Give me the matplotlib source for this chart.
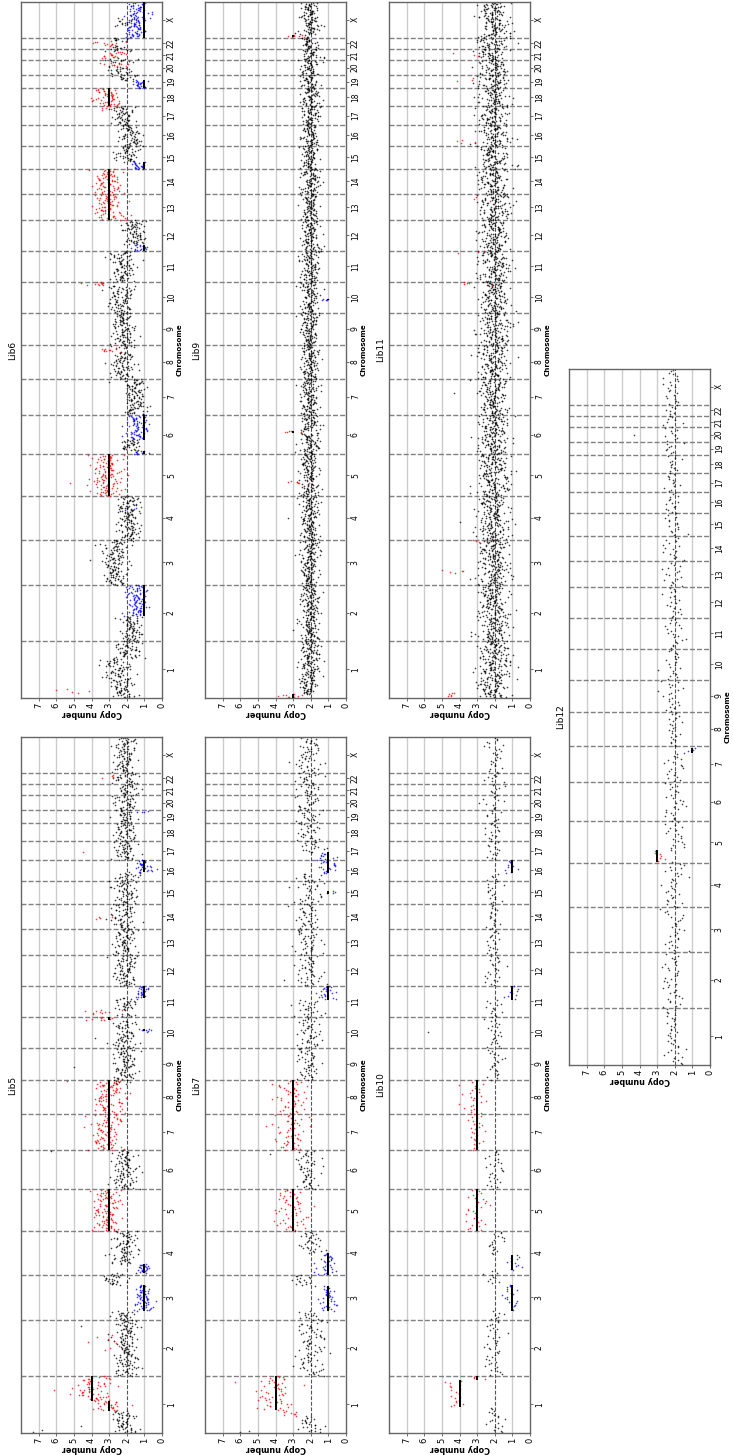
import numpy as np
import matplotlib
matplotlib.use("Agg")
import matplotlib.pyplot as plt

# chromosomes and their lengths (Mb, hg19)
chroms = [str(i) for i in range(1, 23)] + ["X"]
chrom_mb = [249.3, 243.2, 198.0, 191.2, 180.9, 171.1, 159.1, 146.4, 141.2, 135.5,
            135.0, 133.9, 115.2, 107.3, 102.5, 90.4, 81.2, 78.1, 59.1, 63.0,
            48.1, 51.3, 155.3]

# bins per Mb and scatter width for each library
bins_per_mb = {"Lib5": 0.6, "Lib6": 0.7, "Lib7": 0.35, "Lib9": 0.75,
               "Lib10": 0.17, "Lib11": 0.9, "Lib12": 0.15}
noise = {"Lib5": 0.25, "Lib6": 0.25, "Lib7": 0.27, "Lib9": 0.19,
         "Lib10": 0.19, "Lib11": 0.32, "Lib12": 0.21}

# baseline copy number per chromosome (black points)
lib5_base = [2.1, 2.05, 2.2, 2.15, 2.0, 2.1, 2.0, 2.5, 2.05, 2.1, 2.1, 2.05,
             2.1, 2.15, 2.1, 2.1, 2.15, 2.1, 2.1, 2.05, 2.1, 2.1, 2.1]
lib6_base = [2.2, 1.75, 2.6, 1.9, 2.1, 1.7, 1.5, 2.2, 2.2, 2.3, 2.2, 1.55,
             2.1, 2.1, 2.0, 1.8, 2.2, 2.1, 2.2, 2.4, 2.4, 2.5, 2.0]
lib7_base = [2.1, 2.05, 2.1, 2.1, 2.1, 2.1, 2.1, 2.1, 2.1, 2.1, 2.1, 2.1,
             2.1, 2.1, 2.1, 2.1, 2.1, 2.1, 2.1, 2.1, 2.1, 2.1, 2.1]
lib9_base = [2.1, 2.05, 2.05, 2.05, 2.05, 2.05, 2.05, 2.05, 2.05, 2.05, 2.05, 2.05,
             2.05, 2.05, 2.05, 2.05, 2.05, 2.05, 2.05, 2.05, 2.05, 2.05, 2.05]
lib10_base = [2.05] * 23
lib11_base = [2.1, 2.05, 2.05, 2.05, 2.05, 2.05, 2.05, 2.05, 2.05, 2.05, 2.05, 2.05,
              2.05, 2.05, 2.05, 2.05, 2.05, 2.05, 2.05, 2.05, 2.05, 2.05, 2.05]
lib12_base = [2.1] * 23

# called segments: (chrom, start frac, end frac, level, colour, segment CN)
lib5_events = [("1", 0.39, 0.56, 3.0, "r", 3), ("1", 0.56, 1.0, 4.0, "r", 4),
               ("3", 0.2, 0.77, 1.05, "b", 1), ("3", 0.77, 1.0, 2.7, "k", 0),
               ("4", 0.04, 0.24, 1.0, "b", 1), ("5", 0.0, 1.0, 3.1, "r", 3),
               ("7", 0.0, 1.0, 3.1, "r", 3), ("8", 0.0, 1.0, 3.0, "r", 3),
               ("10", 0.55, 0.62, 1.0, "b", 1), ("10", 0.88, 1.0, 3.4, "r", 3),
               ("11", 0.1, 0.22, 3.5, "r", 0), ("11", 0.62, 1.0, 1.05, "b", 1),
               ("16", 0.4, 1.0, 1.05, "b", 1)]
lib6_events = [("1", 0.35, 0.7, 2.6, "k", 0), ("1", 0.7, 1.0, 2.05, "k", 0),
               ("2", 0.45, 1.0, 1.45, "b", 1), ("5", 0.0, 1.0, 3.1, "r", 3),
               ("6", 0.0, 0.1, 1.25, "b", 1), ("6", 0.38, 1.0, 1.4, "b", 1),
               ("8", 0.8, 0.9, 2.8, "r", 0), ("10", 0.88, 1.0, 3.6, "r", 0),
               ("12", 0.0, 0.2, 1.2, "b", 1), ("13", 0.0, 1.0, 3.1, "r", 3),
               ("14", 0.0, 1.0, 3.1, "r", 3), ("15", 0.0, 0.3, 1.3, "b", 1),
               ("18", 0.0, 1.0, 3.1, "r", 3), ("19", 0.0, 0.6, 1.25, "b", 1),
               ("20", 0.6, 0.85, 2.9, "r", 0), ("21", 0.2, 0.8, 2.8, "r", 0),
               ("22", 0.3, 0.7, 3.1, "r", 0), ("X", 0.0, 1.0, 1.45, "b", 1)]
lib7_events = [("1", 0.3, 0.4, 3.0, "r", 0), ("1", 0.4, 1.0, 4.0, "r", 4),
               ("3", 0.2, 0.75, 1.05, "b", 1), ("3", 0.75, 1.0, 2.5, "k", 0),
               ("4", 0.0, 0.5, 1.05, "b", 1), ("5", 0.0, 1.0, 3.1, "r", 3),
               ("7", 0.0, 1.0, 3.1, "r", 3), ("8", 0.0, 1.0, 3.2, "r", 3),
               ("11", 0.55, 1.0, 1.05, "b", 1), ("15", 0.45, 0.55, 1.1, "b", 1),
               ("16", 0.35, 1.0, 1.05, "b", 1), ("17", 0.0, 0.4, 1.1, "b", 1)]
lib9_events = [("1", 0.0, 0.07, 3.3, "r", 3), ("5", 0.3, 0.35, 2.8, "r", 0),
               ("6", 0.55, 0.6, 3.0, "r", 3), ("10", 0.4, 0.45, 1.1, "b", 1),
               ("X", 0.02, 0.08, 2.8, "r", 3)]
lib10_events = [("1", 0.45, 0.93, 4.1, "r", 4), ("1", 0.93, 1.0, 3.0, "r", 3),
                ("3", 0.2, 0.78, 1.1, "b", 1), ("4", 0.1, 0.45, 1.0, "b", 1),
                ("5", 0.0, 1.0, 3.1, "r", 3), ("7", 0.0, 1.0, 3.1, "r", 3),
                ("8", 0.0, 1.0, 3.1, "r", 3), ("11", 0.55, 1.0, 1.05, "b", 1),
                ("16", 0.35, 1.0, 1.05, "b", 1)]
lib11_events = []
lib12_events = [("5", 0.02, 0.3, 2.8, "r", 3), ("7", 0.8, 0.95, 1.05, "b", 1)]

# extra bins on top of the baseline: (chrom, start frac, end frac, level, colour, count)
lib5_extra = [("2", 0.45, 0.75, 3.2, "r", 8), ("8", 0.85, 1.0, 2.4, "k", 8),
              ("10", 0.5, 0.6, 0.6, "b", 3), ("14", 0.4, 0.5, 3.2, "r", 4),
              ("19", 0.8, 0.9, 1.1, "b", 4), ("22", 0.55, 0.8, 3.1, "r", 4)]
lib6_extra = [("1", 0.08, 0.16, 5.0, "r", 5), ("4", 0.65, 0.75, 1.5, "b", 5),
              ("17", 0.8, 1.0, 2.8, "r", 6), ("X", 0.3, 0.55, 2.0, "k", 18)]
lib7_extra = []
lib9_extra = []
lib10_extra = []
lib11_extra = [("1", 0.02, 0.1, 4.3, "r", 6), ("3", 0.25, 0.35, 4.2, "r", 5),
               ("3", 0.95, 1.0, 3.0, "r", 4), ("10", 0.9, 1.0, 3.5, "r", 5),
               ("11", 0.9, 1.0, 3.2, "r", 3), ("13", 0.7, 0.9, 3.2, "r", 3),
               ("16", 0.1, 0.3, 3.5, "r", 4), ("19", 0.5, 0.8, 3.3, "r", 3),
               ("21", 0.3, 0.7, 3.3, "r", 3)]
lib12_extra = []

# single outlying bins: (chrom, frac, copy number, colour)
lib5_out = [("1", 0.02, 7.3, "k"), ("1", 0.05, 6.8, "k"), ("1", 0.12, 4.6, "k"),
            ("1", 0.75, 6.1, "r"), ("2", 0.9, 4.6, "k"), ("2", 0.6, 4.2, "r"),
            ("6", 0.98, 6.3, "k"), ("8", 0.99, 5.4, "r"), ("9", 0.4, 5.0, "k"),
            ("10", 0.3, 3.8, "k"), ("17", 0.4, 4.5, "r")]
lib6_out = [("3", 0.55, 4.1, "k"), ("5", 0.3, 5.2, "r"), ("7", 0.9, 3.0, "k"),
            ("10", 0.95, 4.6, "r")]
lib7_out = [("1", 0.01, 6.0, "k"), ("1", 0.03, 5.5, "k"), ("1", 0.9, 6.3, "r"),
            ("6", 0.9, 4.3, "k"), ("12", 0.2, 3.5, "k")]
lib9_out = [("2", 0.2, 3.0, "k"), ("4", 0.5, 3.3, "k")]
lib10_out = [("10", 0.5, 5.8, "k")]
lib11_out = [("4", 0.4, 4.0, "k"), ("7", 0.6, 4.3, "k")]
lib12_out = [("20", 0.5, 4.3, "k")]

libraries = {
    "Lib5": (lib5_base, lib5_events, lib5_extra, lib5_out),
    "Lib6": (lib6_base, lib6_events, lib6_extra, lib6_out),
    "Lib7": (lib7_base, lib7_events, lib7_extra, lib7_out),
    "Lib9": (lib9_base, lib9_events, lib9_extra, lib9_out),
    "Lib10": (lib10_base, lib10_events, lib10_extra, lib10_out),
    "Lib11": (lib11_base, lib11_events, lib11_extra, lib11_out),
    "Lib12": (lib12_base, lib12_events, lib12_extra, lib12_out),
}

# panel corners in the 733x1455 picture (left, top)
panel_px = {"Lib6": (21, 2), "Lib5": (21, 737), "Lib9": (205, 2), "Lib7": (205, 737),
            "Lib11": (389, 2), "Lib10": (389, 737), "Lib12": (569, 369)}
PW, PH = 141, 696
FW, FH = 733, 1455

colours = {"k": "black", "r": "red", "b": "blue"}
starts = np.concatenate([[0.0], np.cumsum(chrom_mb)[:-1]])
total = float(np.sum(chrom_mb))
mids = starts + np.array(chrom_mb) / 2


# bin-level scatter cannot be read point by point: spread it deterministically
def spread(k):
    h1 = np.modf(np.abs(np.sin(k * 12.9898 + 78.233) * 43758.5453))[0]
    h2 = np.modf(np.abs(np.sin(k * 39.3468 + 11.135) * 24634.6345))[0]
    z = np.sqrt(-2 * np.log(np.clip(h1, 1e-3, 1))) * np.cos(2 * np.pi * h2)
    return np.clip(z, -3, 3)


def build(name):
    base, events, extra, outl = libraries[name]
    dens, k = bins_per_mb[name], noise[name]
    pos, val, col = [], [], []
    cnt = 0
    for i, c in enumerate(chroms):
        n = max(int(round(chrom_mb[i] * dens)), 3)
        f = (np.arange(n) + 0.5) / n
        lev = np.full(n, base[i])
        cc = np.full(n, "k", dtype=object)
        for ec, f0, f1, m, cl, seg in events:
            if ec == c:
                sel = (f >= f0) & (f < f1)
                lev[sel] = m
                cc[sel] = cl
        z = spread(np.arange(cnt, cnt + n))
        cnt += n
        pos.append(starts[i] + f * chrom_mb[i])
        val.append(lev + k * np.sqrt(lev) * z)
        col.append(cc)
    for ec, f0, f1, m, cl, n in extra:
        i = chroms.index(ec)
        f = f0 + (f1 - f0) * (np.arange(n) + 0.5) / n
        z = spread(np.arange(cnt, cnt + n) + 5000)
        cnt += n
        pos.append(starts[i] + f * chrom_mb[i])
        val.append(m + k * np.sqrt(m) * z)
        col.append(np.full(n, cl, dtype=object))
    for ec, f, v, cl in outl:
        i = chroms.index(ec)
        pos.append(np.array([starts[i] + f * chrom_mb[i]]))
        val.append(np.array([v]))
        col.append(np.array([cl], dtype=object))
    return np.concatenate(pos), np.concatenate(val), np.concatenate(col)


fig = plt.figure(figsize=(FW / 100, FH / 100), dpi=100)

for name in ["Lib5", "Lib6", "Lib7", "Lib9", "Lib10", "Lib11", "Lib12"]:
    x0, y0 = panel_px[name]
    ax = fig.add_axes([x0 / FW, 1 - (y0 + PH) / FH, PW / FW, PH / FH])
    ax.set_xlim(8, 0)
    ax.set_ylim(0, total)

    for v in range(1, 8):
        if v == 2:
            ax.axvline(v, color="#555555", lw=0.8, ls=(0, (3.5, 1.5)), zorder=1)
        else:
            ax.axvline(v, color="#cccccc", lw=1.0, zorder=0.5)
    for b in starts[1:]:
        ax.axhline(b, color="#808080", lw=1.0, ls=(0, (3.6, 1.5)), zorder=0.8)

    pos, val, col = build(name)
    for key in ["k", "r", "b"]:
        sel = col == key
        ax.scatter(val[sel], pos[sel], s=1.4, c=colours[key], alpha=0.75,
                   linewidths=0, zorder=2)

    for ec, f0, f1, m, cl, seg in libraries[name][1]:
        if seg:
            i = chroms.index(ec)
            ax.plot([seg, seg], [starts[i] + f0 * chrom_mb[i], starts[i] + f1 * chrom_mb[i]],
                    color="black", lw=1.4, zorder=3, solid_capstyle="butt")

    ax.set_xticks(range(8))
    ax.set_xticklabels([str(v) for v in range(8)], rotation=90, fontsize=6)
    ax.yaxis.tick_right()
    ax.set_yticks(mids)
    ax.set_yticklabels(chroms, rotation=90, fontsize=5.5, va="center")
    ax.tick_params(length=2.5, width=0.6, color="#555555", pad=1)
    ax.yaxis.set_label_position("right")
    ax.set_ylabel("Chromosome", fontsize=5.1, fontweight="bold")
    ax.yaxis.set_label_coords(1.102, 0.5)
    ax.set_xlabel("Copy number", fontsize=5.8, fontweight="bold", rotation=180, labelpad=0.5)
    ax.text(-0.057, 0.5, name, transform=ax.transAxes, rotation=90,
            ha="center", va="center", fontsize=6.5)
    for s in ax.spines.values():
        s.set_color("#666666")
        s.set_linewidth(1.0)

fig.savefig("out.png", dpi=100)
